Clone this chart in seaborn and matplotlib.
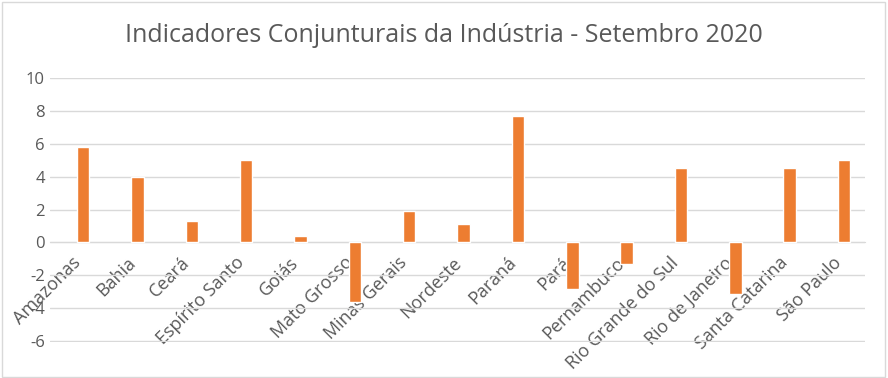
import seaborn as sns
import matplotlib.pyplot as plt
import matplotlib.transforms as mtransforms
import pandas as pd
from matplotlib.patches import Rectangle

# Dados (variação %, leitura aproximada do gráfico)
estados = ["Amazonas", "Bahia", "Ceará", "Espírito Santo", "Goiás", "Mato Grosso",
           "Minas Gerais", "Nordeste", "Paraná", "Pará", "Pernambuco",
           "Rio Grande do Sul", "Rio de Janeiro", "Santa Catarina", "São Paulo"]
valores = [5.8, 4.0, 1.3, 5.0, 0.4, -3.6, 1.9, 1.1, 7.7, -2.8, -1.3, 4.5, -3.1, 4.5, 5.0]
yticks = [-6, -4, -2, 0, 2, 4, 6, 8, 10]

# duas séries como no Excel: a primeira vazia, a segunda com os valores
df = pd.DataFrame({
    "estado": estados * 2,
    "serie": ["vazia"] * len(estados) + ["valor"] * len(estados),
    "valor": [float("nan")] * len(estados) + valores,
})

sns.set_style("white")
plt.rcParams["font.family"] = ["Open Sans", "DejaVu Sans"]
plt.rcParams["axes.unicode_minus"] = False
cinza = "#595959"

fig = plt.figure(figsize=(8.88, 3.78), dpi=100)
ax = fig.add_axes([0.056, 0.095, 0.918, 0.699])

sns.barplot(data=df, x="estado", y="valor", hue="serie", order=estados,
            hue_order=["vazia", "valor"], palette=["#ED7D31", "#ED7D31"],
            saturation=1, width=0.46, dodge=True, legend=False, ax=ax, zorder=3)

ax.set_ylim(-6.05, 10)
ax.set_yticks(yticks)
ax.set_xlim(-0.5, len(estados) - 0.5)
ax.yaxis.grid(True, color="#D9D9D9", linewidth=1, zorder=0)
ax.set_axisbelow("line")
for s in ["left", "right", "top"]:
    ax.spines[s].set_visible(False)
ax.spines["bottom"].set_position(("data", 0))
ax.spines["bottom"].set_color("#D9D9D9")
ax.tick_params(axis="y", length=0, labelsize=12, colors=cinza)
ax.tick_params(axis="x", length=0, labelsize=13, colors=cinza, pad=3)
ax.set_xticks(range(len(estados)))
ax.set_xticklabels(estados, rotation=45, ha="right", rotation_mode="anchor")
desloc = mtransforms.ScaledTranslation(-5 / 100, -7 / 100, fig.dpi_scale_trans)
for lbl in ax.get_xticklabels():
    lbl.set_transform(lbl.get_transform() + desloc)
ax.set_xlabel("")
ax.set_ylabel("")

fig.text(0.5, 0.905, "Indicadores Conjunturais da Indústria - Setembro 2020",
         ha="center", va="center", fontsize=18, color=cinza)
fig.patches.append(Rectangle((0.002, 0.003), 0.995, 0.993, transform=fig.transFigure,
                             fill=False, edgecolor="#D9D9D9", linewidth=1))

fig.savefig("out.png", dpi=100)
